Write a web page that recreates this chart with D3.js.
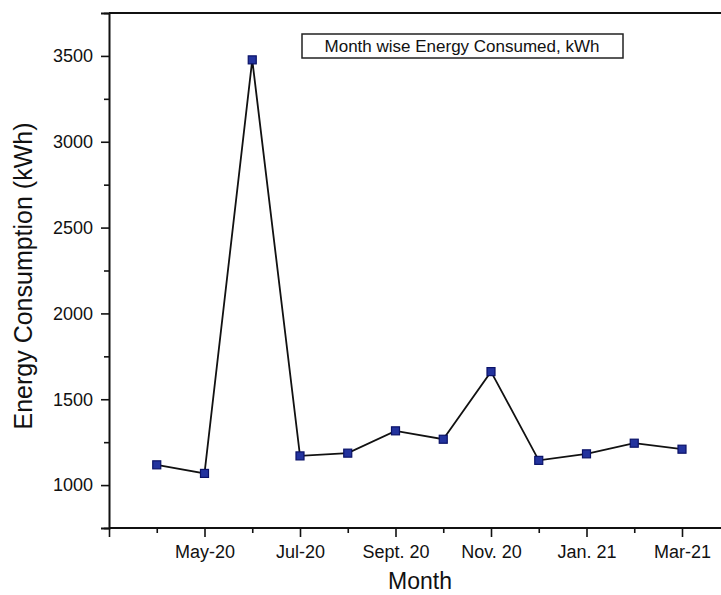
<!DOCTYPE html>
<html>
  <head>
    <meta charset="utf-8">
    <title>Month wise Energy Consumed</title>
    <script src="https://d3js.org/d3.v7.min.js" charset="utf-8"></script>
    <style>
      html, body { margin: 0; padding: 0; background: #fff; }
      body { width: 721px; height: 595px; overflow: hidden; }
      svg { display: block; font-family: "Liberation Sans", Arial, Helvetica, sans-serif; }
      .axis path, .axis line { stroke: #111; }
      .axis text { fill: #111; }
    </style>
  </head>
  <body>
    <div id="box"></div>
    <script>
      // data
      var months = ["Apr-20", "May-20", "Jun-20", "Jul-20", "Aug-20", "Sept. 20",
                    "Oct-20", "Nov. 20", "Dec-20", "Jan. 21", "Feb-21", "Mar-21"];
      var energy = [1118, 1068, 3477, 1170, 1186, 1316, 1267, 1661, 1144, 1182, 1244, 1209];
      var xTickLabels = ["May-20", "Jul-20", "Sept. 20", "Nov. 20", "Jan. 21", "Mar-21"];
      var yTicks = [1000, 1500, 2000, 2500, 3000, 3500];
      var yMinorTicks = [750, 1250, 1750, 2250, 2750, 3250, 3750];

      var width = 721, height = 595;
      var plotLeft = 109, plotRight = 745, plotTop = 13, plotBottom = 528;

      var svg = d3.select("#box").append("svg")
                  .attr("width", width)
                  .attr("height", height);

      // index -1 is the axis start, months sit on 0..11
      var x = d3.scaleLinear().domain([-1, 11]).range([plotLeft, 682]);
      var y = d3.scaleLinear().domain([750, 3750]).range([plotBottom, plotTop]);

      var majorIdx = xTickLabels.map(function(l) { return months.indexOf(l); });
      var minorIdx = d3.range(0, 12, 2);

      // frame: top edge (right edge runs past the window)
      svg.append("path")
         .attr("d", "M" + plotLeft + "," + plotTop + "H" + plotRight + "V" + plotBottom)
         .attr("fill", "none")
         .attr("stroke", "#111")
         .attr("stroke-width", 2);

      // x axis
      var xAxis = svg.append("g").attr("class", "axis")
         .attr("transform", "translate(0," + plotBottom + ")")
         .call(d3.axisBottom(x)
                 .tickValues([-1].concat(majorIdx))
                 .tickSize(9)
                 .tickPadding(6)
                 .tickFormat(function(d) { return d < 0 ? "" : months[d]; }));
      xAxis.select(".domain").attr("d", "M" + plotLeft + ",0H" + plotRight).attr("stroke-width", 2);
      xAxis.selectAll(".tick line").attr("stroke-width", 1.6);
      xAxis.selectAll("text").attr("font-size", 18).attr("dy", "0.85em");

      var xMinor = svg.append("g").attr("class", "axis")
         .attr("transform", "translate(0," + plotBottom + ")")
         .call(d3.axisBottom(x).tickValues(minorIdx).tickSize(5).tickFormat(""));
      xMinor.select(".domain").remove();
      xMinor.selectAll(".tick line").attr("stroke-width", 1.6);

      // y axis
      var yAxis = svg.append("g").attr("class", "axis")
         .attr("transform", "translate(" + plotLeft + ",0)")
         .call(d3.axisLeft(y).tickValues(yTicks).tickSize(8).tickPadding(8)
                 .tickFormat(d3.format("d")));
      yAxis.select(".domain").attr("stroke-width", 2);
      yAxis.selectAll(".tick line").attr("stroke-width", 1.6);
      yAxis.selectAll("text").attr("font-size", 18);

      var yMinor = svg.append("g").attr("class", "axis")
         .attr("transform", "translate(" + plotLeft + ",0)")
         .call(d3.axisLeft(y).tickValues(yMinorTicks).tickSize(5).tickFormat(""));
      yMinor.select(".domain").remove();
      yMinor.selectAll(".tick line").attr("stroke-width", 1.6);

      // line + square markers
      var line = d3.line()
                   .x(function(d, i) { return x(i); })
                   .y(function(d) { return y(d); });

      svg.append("path")
         .datum(energy)
         .attr("d", line)
         .attr("fill", "none")
         .attr("stroke", "#111")
         .attr("stroke-width", 1.8);

      var ms = 8;
      svg.selectAll("rect.marker")
         .data(energy)
         .enter()
           .append("rect")
           .attr("class", "marker")
           .attr("x", function(d, i) { return x(i) - ms / 2; })
           .attr("y", function(d) { return y(d) - ms / 2; })
           .attr("width", ms)
           .attr("height", ms)
           .attr("fill", "#23339e")
           .attr("stroke", "#0a1268")
           .attr("stroke-width", 1.2);

      // legend box
      var legend = svg.append("g").attr("transform", "translate(302,34)");
      legend.append("rect")
            .attr("width", 321)
            .attr("height", 24)
            .attr("fill", "#fff")
            .attr("stroke", "#222")
            .attr("stroke-width", 1.5);
      legend.append("text")
            .attr("x", 160)
            .attr("y", 18)
            .attr("text-anchor", "middle")
            .attr("font-size", 17)
            .attr("fill", "#111")
            .text("Month wise Energy Consumed, kWh");

      // axis titles
      svg.append("text")
         .attr("transform", "translate(32,276) rotate(-90)")
         .attr("text-anchor", "middle")
         .attr("font-size", 25)
         .attr("fill", "#111")
         .text("Energy Consumption (kWh)");

      svg.append("text")
         .attr("x", 420)
         .attr("y", 589)
         .attr("text-anchor", "middle")
         .attr("font-size", 23)
         .attr("fill", "#111")
         .text("Month");
    </script>
  </body>
</html>
